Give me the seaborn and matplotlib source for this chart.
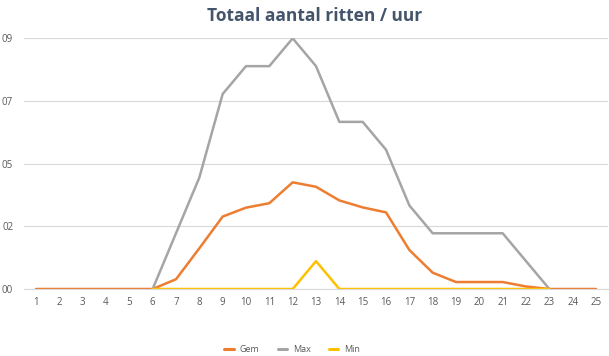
import numpy as np
import pandas as pd
import matplotlib
matplotlib.use("Agg")
import matplotlib.pyplot as plt
from matplotlib.lines import Line2D
import seaborn as sns

nan = np.nan
hours = list(range(1, 26))
gem = [0, 0, 0, 0, 0, 0, 0.35, 1.46, 2.6, 2.92, 3.08, 3.83, 3.67, 3.18, 2.93,
       2.75, 1.4, 0.585, 0.25, 0.25, 0.25, 0.09, 0, 0, 0]
mx = [nan, nan, nan, nan, nan, 0, 2, 4, 7, 8, 8, 9, 8, 6, 6, 5, 3, 2, 2, 2, 2, 1, 0, nan, nan]
mn = [nan, nan, nan, nan, nan, 0, 0, 0, 0, 0, 0, 0, 1, 0, 0, 0, 0, 0, 0, 0, 0, 0, 0, nan, nan]
series_names = ["Gem", "Max", "Min"]
ytick_vals = [0, 2.25, 4.5, 6.75, 9]
ytick_labels = ["00", "02", "05", "07", "09"]
title = "Totaal aantal ritten / uur"

df = pd.DataFrame({
    "uur": hours * 3,
    "waarde": gem + mx + mn,
    "serie": [series_names[0]] * 25 + [series_names[1]] * 25 + [series_names[2]] * 25,
})

sns.set_style("white")
plt.rcParams["font.family"] = ["Open Sans", "DejaVu Sans"]

fig = plt.figure(figsize=(6.09, 3.56), dpi=100)
ax = fig.add_axes([0.0399, 0.1882, 0.958, 0.7042])

palette = {"Gem": "#ED7D31", "Max": "#A5A5A5", "Min": "#FFC000"}
sns.lineplot(data=df, x="uur", y="waarde", hue="serie", palette=palette,
             linewidth=1.8, ax=ax, legend=False)

ax.set_xlim(0.5, 25.5)
ax.set_ylim(0, 9)
ax.set_yticks(ytick_vals)
ax.set_yticklabels(ytick_labels)
ax.set_xticks(hours)
ax.set_xticklabels([str(h) for h in hours])
ax.set_xticks(np.arange(0.5, 26, 1), minor=True)
ax.tick_params(axis="x", which="major", length=0, pad=6, labelsize=7, labelcolor="#595959")
ax.tick_params(axis="x", which="minor", length=4, color="#D9D9D9", width=0.8)
ax.tick_params(axis="y", length=0, pad=8, labelsize=7, labelcolor="#595959")
ax.yaxis.grid(True, color="#D9D9D9", linewidth=0.8)
ax.set_axisbelow(True)
for s in ["top", "right", "left"]:
    ax.spines[s].set_visible(False)
ax.spines["bottom"].set_color("#D9D9D9")
ax.spines["bottom"].set_linewidth(0.8)
ax.set_xlabel("")
ax.set_ylabel("")

fig.text(0.517, 0.955, title, ha="center", va="center", fontsize=12.5,
         fontweight="bold", color="#44546A")

handles = [Line2D([0], [0], color=palette[n], linewidth=2.2) for n in series_names]
fig.legend(handles, series_names, loc="center", bbox_to_anchor=(0.48, 0.018),
           ncol=3, frameon=False, fontsize=6.5, handlelength=1.0, columnspacing=2.0,
           handletextpad=0.7, labelcolor="#595959")

fig.savefig("out.png", dpi=100)
